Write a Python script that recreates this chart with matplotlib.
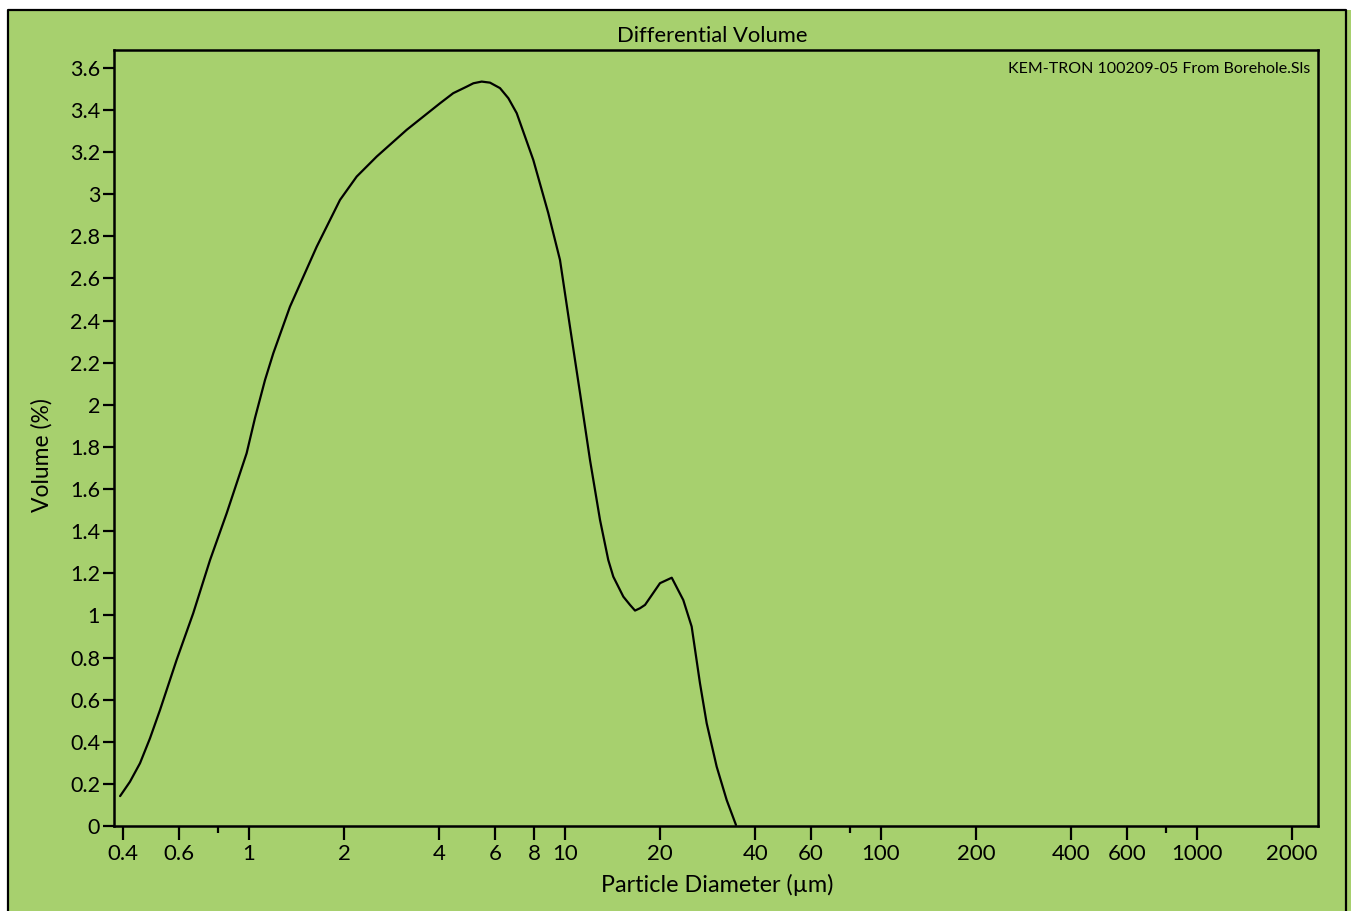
import matplotlib
matplotlib.use('Agg')
import matplotlib.pyplot as plt
from matplotlib.ticker import FixedLocator, FixedFormatter, NullFormatter
from matplotlib.lines import Line2D
from matplotlib.patches import Rectangle

plt.rcParams['font.family'] = ['Lato', 'DejaVu Sans']

# particle diameter (um) and differential volume (%)
diameter = [0.391, 0.420, 0.452, 0.486, 0.523, 0.590, 0.666, 0.753, 0.850, 0.983,
            1.045, 1.124, 1.194, 1.348, 1.638, 1.941, 2.192, 2.536, 3.156, 4.023,
            4.43, 4.886, 5.13, 5.450, 5.79, 6.228, 6.62, 7.035, 7.938, 8.856,
            9.643, 10.37, 11.16, 12.00, 12.91, 13.71, 14.22, 15.30, 16.06, 16.66,
            17.27, 17.92, 19.98, 21.77, 23.68, 25.17, 26.74, 28.08, 30.20, 32.49,
            34.76]
volume = [0.142, 0.210, 0.298, 0.416, 0.551, 0.788, 1.010, 1.263, 1.485, 1.770,
          1.938, 2.118, 2.245, 2.466, 2.751, 2.973, 3.084, 3.179, 3.306, 3.432,
          3.480, 3.511, 3.527, 3.535, 3.530, 3.504, 3.456, 3.385, 3.163, 2.910,
          2.688, 2.371, 2.055, 1.738, 1.453, 1.263, 1.184, 1.089, 1.050, 1.023,
          1.034, 1.050, 1.153, 1.179, 1.073, 0.947, 0.678, 0.488, 0.282, 0.123,
          0.005]

x_ticks = [0.4, 0.6, 1, 2, 4, 6, 8, 10, 20, 40, 60, 100, 200, 400, 600, 1000, 2000]
x_labels = ['0.4', '0.6', '1', '2', '4', '6', '8', '10', '20', '40', '60',
            '100', '200', '400', '600', '1000', '2000']
x_minor = [0.8, 80, 800]
y_ticks = [0, 0.2, 0.4, 0.6, 0.8, 1, 1.2, 1.4, 1.6, 1.8, 2, 2.2, 2.4, 2.6, 2.8,
           3, 3.2, 3.4, 3.6]

green = '#a7d06e'
W, H = 1351, 911

fig = plt.figure(figsize=(W / 100, H / 100), dpi=100, facecolor=green)

# white margin top/left and the black frame around the panel
fig.patches.append(Rectangle((0, 1 - 10 / H), 1, 10 / H, transform=fig.transFigure,
                             facecolor='white', edgecolor='none', zorder=0))
fig.patches.append(Rectangle((0, 0), 8 / W, 1, transform=fig.transFigure,
                             facecolor='white', edgecolor='none', zorder=0))
frame_x = [8 / W, 8 / W, 1346 / W, 1346 / W]
frame_y = [0, 1 - 10 / H, 1 - 10 / H, 0]
fig.lines.append(Line2D(frame_x, frame_y, transform=fig.transFigure,
                        color='black', linewidth=1.6))

ax = fig.add_axes([114 / W, 1 - 826 / H, (1318 - 114) / W, (826 - 50) / H])
ax.set_facecolor(green)

ax.plot(diameter, volume, color='black', linewidth=1.6,
        solid_joinstyle='round', solid_capstyle='round')

ax.set_xscale('log')
ax.set_xlim(0.374, 2415)
ax.set_ylim(0, 3.685)

ax.xaxis.set_major_locator(FixedLocator(x_ticks))
ax.xaxis.set_major_formatter(FixedFormatter(x_labels))
ax.xaxis.set_minor_locator(FixedLocator(x_minor))
ax.xaxis.set_minor_formatter(NullFormatter())
ax.set_yticks(y_ticks)
ax.set_yticklabels(['%g' % v for v in y_ticks])

ax.tick_params(axis='x', which='major', direction='out', length=10, width=1.6,
               pad=3, labelsize=16)
ax.tick_params(axis='x', which='minor', direction='out', length=5, width=1.6)
ax.tick_params(axis='y', direction='out', length=8, width=1.6, pad=2, labelsize=15.5)

for s in ax.spines.values():
    s.set_linewidth(1.8)

fig.text(712 / W, 1 - 36 / H, 'Differential Volume', ha='center', va='center', fontsize=15.8)
fig.text(717 / W, 1 - 885 / H, 'Particle Diameter (µm)', ha='center', va='center', fontsize=16.8)
fig.text(42 / W, 1 - 455 / H, 'Volume (%)', ha='center', va='center', rotation=90, fontsize=16.5)
ax.text(0.9935, 0.975, 'KEM-TRON 100209-05 From Borehole.Sls', transform=ax.transAxes,
        ha='right', va='center', fontsize=11.5)

fig.savefig('out.png', dpi=100, facecolor=fig.get_facecolor())
